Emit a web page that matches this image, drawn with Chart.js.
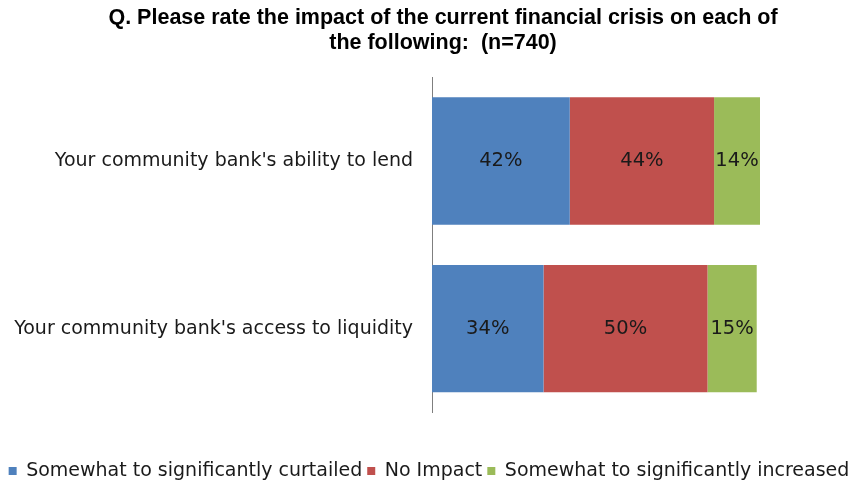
<!DOCTYPE html>
<html>
<head>
<meta charset="utf-8">
<script src="https://cdn.jsdelivr.net/npm/chart.js@4/dist/chart.umd.min.js"></script>
<style>
  html, body { margin: 0; padding: 0; background: #ffffff; }
  #wrap { width: 858px; height: 486px; }
</style>
</head>
<body>
<div id="wrap"><canvas id="chart" width="858" height="486"></canvas></div>
<script>
// Survey results: impact of the financial crisis (n=740)
const categories = [
  "Your community bank's ability to lend",
  "Your community bank's access to liquidity"
];
const seriesNames = [
  "Somewhat to significantly curtailed",
  "No Impact",
  "Somewhat to significantly increased"
];
const curtailed = [42, 34];
const noImpact = [44, 50];
const increased = [14, 15];
const titleLines = [
  "Q. Please rate the impact of the current financial crisis on each of",
  "the following:  (n=740)"
];

const colors = ["#4f81bd", "#c0504d", "#9bbb59"];
const bodyFont = '"DejaVu Sans", "Liberation Sans", Arial, sans-serif';

// Percentage labels centred inside each bar segment
const segmentLabels = {
  id: 'segmentLabels',
  afterDatasetsDraw(chart) {
    const ctx = chart.ctx;
    ctx.save();
    ctx.font = '19.5px ' + bodyFont;
    ctx.fillStyle = '#1a1a1a';
    ctx.textAlign = 'center';
    ctx.textBaseline = 'middle';
    chart.data.datasets.forEach((ds, di) => {
      const meta = chart.getDatasetMeta(di);
      meta.data.forEach((bar, i) => {
        const v = ds.data[i];
        const left = Math.min(bar.x, bar.base);
        const right = Math.max(bar.x, bar.base);
        ctx.fillText(v + '%', (left + right) / 2, bar.y);
      });
    });
    ctx.restore();
  }
};

// Nudge the title block a little right of the canvas centre
const titleOffset = {
  id: 'titleOffset',
  afterLayout(chart) {
    const t = chart.titleBlock;
    if (t) { t.left += 14; t.right += 14; }
  }
};

new Chart(document.getElementById('chart'), {
  type: 'bar',
  data: {
    labels: categories,
    datasets: [
      { label: seriesNames[0], data: curtailed, backgroundColor: colors[0] },
      { label: seriesNames[1], data: noImpact, backgroundColor: colors[1] },
      { label: seriesNames[2], data: increased, backgroundColor: colors[2] }
    ]
  },
  options: {
    indexAxis: 'y',
    responsive: false,
    animation: false,
    devicePixelRatio: 1,
    layout: { padding: { left: 0, right: 0, top: 0, bottom: -4.5 } },
    datasets: {
      bar: { categoryPercentage: 1.0, barPercentage: 0.76, borderWidth: 0 }
    },
    scales: {
      x: {
        stacked: true,
        min: 0,
        max: 100,
        ticks: { display: false },
        grid: { display: false },
        border: { display: false },
        afterFit(scale) { scale.height = 44; }
      },
      y: {
        stacked: true,
        grid: { display: false },
        border: { display: true, color: '#7f7f7f', width: 1 },
        ticks: {
          color: '#1a1a1a',
          padding: 11,
          font: { family: bodyFont, size: 19 }
        },
        afterFit(scale) { scale.width = 432; }
      },
      // empty margin on the right of the bars
      yRight: {
        axis: 'y',
        type: 'category',
        position: 'right',
        ticks: { display: false },
        grid: { display: false },
        border: { display: false },
        afterFit(scale) { scale.width = 98; }
      }
    },
    plugins: {
      title: {
        display: true,
        text: titleLines,
        color: '#000000',
        font: { family: '"Liberation Sans", Arial, sans-serif', size: 21.5, weight: 'bold', lineHeight: 1.163 },
        padding: { top: 6, bottom: 21 }
      },
      legend: {
        display: true,
        position: 'bottom',
        labels: {
          boxWidth: 8,
          boxHeight: 8,
          padding: 5,
          color: '#1a1a1a',
          font: { family: bodyFont, size: 19 }
        }
      },
      tooltip: { enabled: false }
    }
  },
  plugins: [segmentLabels, titleOffset]
});
</script>
</body>
</html>
